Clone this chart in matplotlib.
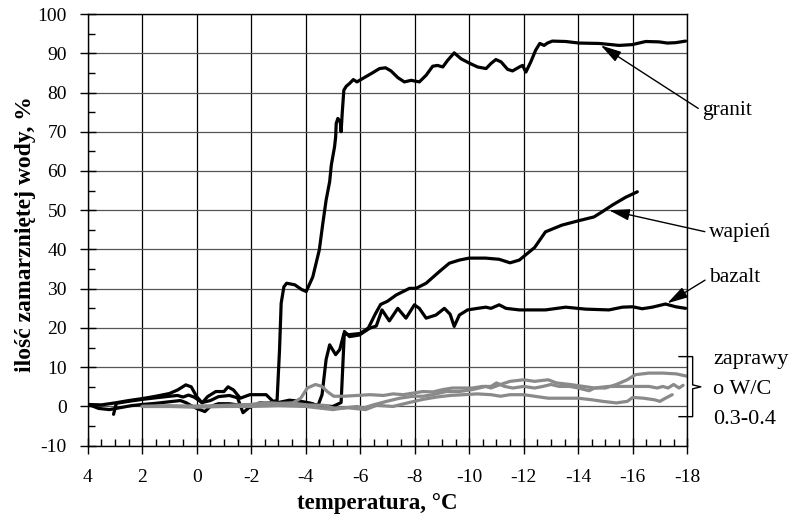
#!/usr/bin/env python3
# Ilosc zamarznietej wody vs temperatura

import matplotlib
matplotlib.use("Agg")
import matplotlib.pyplot as plt
from matplotlib.ticker import MultipleLocator

# ---------- DATA ----------
granit_t = [4.0, 3.5, 3.0, 2.5, 2.0, 1.5, 1.0, 0.7, 0.4, 0.2, 0.0, -0.2, -0.4, -0.7, -1.0,
            -1.15, -1.35, -1.6, -1.95, -2.55, -2.8, -2.95, -3.04, -3.1, -3.2, -3.3, -3.6,
            -3.85, -4.02, -4.26, -4.5, -4.63, -4.75, -4.88, -4.94, -5.06, -5.1, -5.12, -5.18,
            -5.27, -5.3, -5.34, -5.4, -5.49, -5.61, -5.75, -5.88, -6.1, -6.4, -6.71, -6.93,
            -7.13, -7.38, -7.62, -7.87, -8.17, -8.42, -8.66, -8.84, -9.03, -9.21, -9.45, -9.7,
            -10.0, -10.31, -10.62, -10.8, -10.98, -11.17, -11.41, -11.59, -11.84, -11.96,
            -12.08, -12.26, -12.44, -12.59, -12.75, -12.87, -13.05, -13.54, -14.03, -14.77,
            -15.5, -15.98, -16.48, -16.97, -17.27, -17.58, -17.94]
granit_v = [0.5, 0.4, 0.9, 1.5, 2.0, 2.6, 3.3, 4.2, 5.5, 5.0, 2.5, 0.9, 2.5, 3.8, 3.8,
            5.0, 4.2, 2.1, 3.0, 3.0, 1.3, 1.5, 14.4, 26.3, 30.5, 31.4, 31.0,
            29.8, 29.3, 33.0, 39.9, 46.7, 52.6, 57.3, 61.5, 66.2, 68.7, 72.1, 73.4,
            72.5, 70.0, 74.7, 80.6, 81.6, 82.3, 83.3, 82.7, 83.6, 84.8, 86.1, 86.3,
            85.5, 83.8, 82.7, 83.1, 82.7, 84.4, 86.7, 86.9, 86.5, 88.2, 90.1, 88.6,
            87.5, 86.5, 86.1, 87.4, 88.4, 87.8, 85.9, 85.5, 86.5, 86.9,
            85.2, 87.8, 90.8, 92.5, 92.0, 92.6, 93.1, 93.0, 92.6, 92.5,
            92.0, 92.2, 93.0, 92.9, 92.6, 92.7, 93.1]

wapien_t = [4.0, 3.6, 3.2, 2.8, 2.4, 2.0, 1.5, 1.0, 0.6, 0.4, 0.2, 0.0, -0.3, -0.5, -0.8,
            -1.2, -1.6, -2.0, -2.5, -3.0, -3.4, -3.8, -4.2, -4.45, -4.6, -4.75, -4.88, -5.1,
            -5.25, -5.4, -5.6, -6.0, -6.3, -6.55, -6.75, -7.0, -7.32, -7.81, -8.05, -8.42,
            -8.91, -9.27, -9.64, -10.0, -10.6, -11.1, -11.5, -11.84, -12.4, -12.8, -13.4,
            -14.0, -14.58, -14.88, -15.25, -15.74, -16.17]
wapien_v = [0.6, -0.5, -0.8, -0.3, 0.2, 0.5, 0.8, 1.2, 1.5, 1.0, 0.2, -0.5, -1.3, 0.0, 0.7,
            0.7, 0.3, 0.4, 0.6, 1.0, 1.6, 1.3, 0.8, 0.2, 3.0, 12.0, 15.7, 13.2,
            14.5, 18.5, 18.3, 18.6, 20.0, 23.5, 26.0, 26.8, 28.4, 30.1, 30.1, 31.4,
            34.4, 36.5, 37.3, 37.8, 37.8, 37.5, 36.6, 37.3, 40.5, 44.5, 46.2,
            47.3, 48.3, 49.6, 51.3, 53.3, 54.7]

bazalt_t = [3.05, 2.95, 2.5, 2.0, 1.5, 1.0, 0.7, 0.5, 0.3, 0.1, -0.2, -0.5, -0.8, -1.2,
            -1.5, -1.7, -1.9, -2.3, -2.8, -3.2, -3.6, -4.0, -4.5, -5.0, -5.3, -5.36, -5.42,
            -5.61, -5.97, -6.34, -6.59, -6.8, -7.07, -7.38, -7.68, -7.99, -8.17, -8.42, -8.78,
            -9.09, -9.3, -9.45, -9.64, -9.94, -10.31, -10.61, -10.8, -11.1, -11.35, -11.84,
            -12.8, -13.54, -14.27, -15.13, -15.62, -16.0, -16.35, -16.72, -17.2, -17.58, -17.94]
bazalt_v = [-2.0, 0.8, 1.3, 1.8, 2.2, 2.6, 2.8, 2.4, 2.9, 2.4, 1.0, 1.5, 2.5, 2.8,
            2.2, -1.6, -0.4, 0.9, 1.0, 0.5, 1.4, 1.0, 0.2, 0.0, 1.0, 10.0, 19.1,
            17.8, 18.2, 19.9, 20.5, 24.6, 21.8, 25.0, 22.5, 25.9, 25.0, 22.5, 23.3,
            25.0, 23.5, 20.4, 23.3, 24.6, 25.0, 25.3, 25.0, 25.9, 25.0, 24.6,
            24.6, 25.3, 24.8, 24.6, 25.3, 25.4, 24.9, 25.3, 26.1, 25.4, 25.0]

# zaprawy o W/C 0.3-0.4 (three mortars)
zap1_t = [2.0, 1.0, 0.0, -1.0, -2.0, -2.5, -3.0, -3.5, -3.82, -4.06, -4.36, -4.6, -4.79, -5.03,
          -5.39, -5.88, -6.36, -6.85, -7.21, -7.58, -7.94, -8.3, -8.67, -9.03, -9.39, -9.76,
          -10.12, -10.48, -10.8, -11.0, -11.3, -11.6, -12.0, -12.4, -12.7, -13.0, -13.3, -13.7,
          -14.0, -14.4, -14.6, -15.1, -15.6, -16.1, -16.6, -16.9, -17.1, -17.3, -17.5, -17.7,
          -17.85]
zap1_v = [0.0, 0.0, -0.2, 0.0, 0.3, 0.8, 0.5, 0.8, 2.1, 4.7, 5.6, 5.1, 3.8, 2.6,
          2.6, 2.8, 3.0, 2.8, 3.2, 3.0, 3.4, 3.8, 3.7, 4.3, 4.7, 4.7,
          4.7, 5.1, 5.1, 6.0, 5.1, 4.7, 5.1, 4.7, 5.1, 5.6, 5.1, 5.1,
          4.7, 4.0, 4.7, 5.1, 5.1, 5.1, 5.1, 4.7, 5.1, 4.7, 5.6, 4.7,
          5.4]

zap2_t = [2.0, 1.0, 0.0, -1.0, -2.0, -2.5, -3.0, -3.45, -4.06, -4.67, -5.03, -5.39, -5.88,
          -6.12, -6.48, -6.97, -7.45, -7.94, -8.3, -8.67, -9.15, -9.64, -10.12, -10.6, -10.8,
          -11.15, -11.5, -12.0, -12.4, -12.9, -13.2, -13.7, -14.2, -14.6, -15.0, -15.4, -15.8,
          -16.1, -16.6, -17.1, -17.6, -18.0]
zap2_v = [0.0, 0.2, 0.0, 0.3, 0.5, 1.0, 0.8, 0.9, 0.4, 0.3, -0.4, -0.4, 0.0,
          -0.4, 0.4, 1.3, 2.1, 2.6, 2.6, 3.0, 3.8, 3.8, 4.3, 5.1, 4.7,
          5.6, 6.4, 6.8, 6.4, 6.8, 6.0, 5.6, 5.1, 4.7, 4.7, 5.6, 6.8,
          8.1, 8.5, 8.5, 8.3, 7.7]

zap3_t = [2.0, 1.0, 0.0, -1.0, -2.0, -3.0, -4.0, -5.0, -5.5, -6.2, -6.6, -7.2, -7.8, -8.3,
          -8.8, -9.3, -9.8, -10.3, -10.8, -11.15, -11.5, -12.0, -12.4, -12.9, -13.5, -14.0,
          -14.5, -14.9, -15.4, -15.8, -16.0, -16.4, -16.8, -17.0, -17.2, -17.45]
zap3_v = [0.0, 0.0, 0.1, 0.0, 0.0, 0.2, 0.0, -0.8, -0.3, -0.8, 0.3, 0.0, 1.0, 1.8,
          2.4, 2.8, 3.0, 3.2, 3.0, 2.6, 3.0, 3.0, 2.6, 2.1, 2.1, 2.1,
          1.7, 1.3, 0.9, 1.3, 2.3, 2.1, 1.7, 1.3, 2.1, 3.0]

x_ticks = list(range(4, -19, -2))
y_ticks = list(range(-10, 101, 10))

# ---------- PLOT ----------
plt.rcParams['font.family'] = ['Liberation Serif', 'DejaVu Serif']
plt.rcParams['axes.unicode_minus'] = False

fig = plt.figure(figsize=(8, 5.23), dpi=100)
ax = fig.add_axes([0.1096, 0.1478, 0.7494, 0.8254])

black = dict(color='black', lw=2.3, solid_joinstyle='round', solid_capstyle='round')
gray = dict(color='#8a8a8a', lw=2.3, solid_joinstyle='round', solid_capstyle='round')

ax.plot(granit_t, granit_v, **black)
ax.plot(wapien_t, wapien_v, **black)
ax.plot(bazalt_t, bazalt_v, **black)
ax.plot(zap1_t, zap1_v, **gray)
ax.plot(zap2_t, zap2_v, **gray)
ax.plot(zap3_t, zap3_v, **gray)

ax.set_xlim(4, -18)
ax.set_ylim(-10, 100)
ax.set_xticks(x_ticks)
ax.set_yticks(y_ticks)
ax.xaxis.set_minor_locator(MultipleLocator(0.5))
ax.yaxis.set_minor_locator(MultipleLocator(5))

ax.xaxis.grid(True, color='black', lw=0.9)
ax.yaxis.grid(True, color='#555555', lw=0.9)
ax.set_axisbelow(True)
for s in ax.spines.values():
    s.set_color('black')
    s.set_linewidth(1.0)

ax.tick_params(which='major', direction='inout', length=12, width=1, labelsize=14)
ax.tick_params(which='minor', direction='in', length=5, width=1)
ax.tick_params(axis='x', which='major', pad=11)
ax.tick_params(axis='y', which='major', pad=9)
ax.tick_params(which='both', top=False, right=False)

ax.set_xlabel("temperatura, °C", fontsize=16.5, fontweight='bold')
ax.set_ylabel("ilość zamarzniętej wody, %", fontsize=17, fontweight='bold')
ax.xaxis.set_label_coords(0.4836, -0.11)
ax.yaxis.set_label_coords(-0.087, 0.49)

# ---------- LABELS ----------
arrow = dict(arrowstyle='-|>,head_length=0.9,head_width=0.25', color='black', lw=1,
             mutation_scale=14, shrinkA=1, shrinkB=0, relpos=(0, 0.5))
ax.annotate("granit", xy=(-14.83, 92.0), xytext=(-18.55, 75.3), fontsize=15.5,
            va='center', ha='left', arrowprops=arrow, annotation_clip=False)
ax.annotate("wapień", xy=(-15.13, 50.0), xytext=(-18.8, 44.3), fontsize=15.5,
            va='center', ha='left', arrowprops=arrow, annotation_clip=False)
ax.annotate("bazalt", xy=(-17.27, 26.3), xytext=(-18.8, 32.8), fontsize=15.5,
            va='center', ha='left', arrowprops=arrow, annotation_clip=False)

# bracket for mortars
ax.plot([-17.7, -18.2, -18.2, -18.5, -18.2, -18.2, -17.7],
        [12.7, 12.7, 5.5, 5.0, 4.5, -2.6, -2.6],
        color='black', lw=1, clip_on=False)
ax.text(-18.95, 12.0, "zaprawy", fontsize=16, va='center', ha='left')
ax.text(-18.95, 4.3, "o W/C", fontsize=16, va='center', ha='left')
ax.text(-18.95, -3.4, "0.3-0.4", fontsize=16, va='center', ha='left')

fig.savefig("out.png", dpi=100)
